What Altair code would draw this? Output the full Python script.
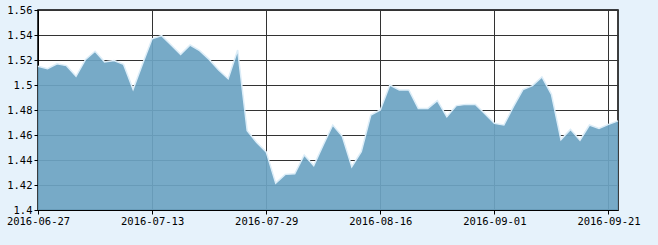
import altair as alt
import pandas as pd

dates = [
    "2016-06-27", "2016-06-28", "2016-06-29", "2016-06-30",
    "2016-07-01", "2016-07-04", "2016-07-05", "2016-07-06", "2016-07-07", "2016-07-08",
    "2016-07-11", "2016-07-12", "2016-07-13", "2016-07-14", "2016-07-15",
    "2016-07-18", "2016-07-19", "2016-07-20", "2016-07-21", "2016-07-22",
    "2016-07-25", "2016-07-26", "2016-07-27", "2016-07-28", "2016-07-29",
    "2016-08-01", "2016-08-02", "2016-08-03", "2016-08-04", "2016-08-05",
    "2016-08-08", "2016-08-09", "2016-08-10", "2016-08-11", "2016-08-12",
    "2016-08-15", "2016-08-16", "2016-08-17", "2016-08-18", "2016-08-19",
    "2016-08-22", "2016-08-23", "2016-08-24", "2016-08-25", "2016-08-26",
    "2016-08-29", "2016-08-30", "2016-08-31", "2016-09-01", "2016-09-02",
    "2016-09-05", "2016-09-06", "2016-09-07", "2016-09-08", "2016-09-09",
    "2016-09-12", "2016-09-13", "2016-09-14",
    "2016-09-19", "2016-09-20", "2016-09-21", "2016-09-22",
]

values = [
    1.515, 1.513, 1.517, 1.5155,
    1.507, 1.5205, 1.527, 1.5185, 1.5195, 1.5165,
    1.4965, 1.517, 1.537, 1.5395, 1.532,
    1.5245, 1.532, 1.5275, 1.5205, 1.512,
    1.505, 1.528, 1.4635, 1.454, 1.4465,
    1.4215, 1.4285, 1.429, 1.444, 1.4355,
    1.452, 1.468, 1.459, 1.4347, 1.4467,
    1.476, 1.480, 1.500, 1.496, 1.496,
    1.4813, 1.4813, 1.4875, 1.4747, 1.4835,
    1.4845, 1.4845, 1.477, 1.4693, 1.468,
    1.4827, 1.4963, 1.4995, 1.5065, 1.4925,
    1.4563, 1.4645, 1.4558,
    1.468, 1.4653, 1.4685, 1.4713,
]

tick_dates = ["2016-06-27", "2016-07-13", "2016-07-29", "2016-08-16", "2016-09-01", "2016-09-21"]
y_ticks = [1.40, 1.42, 1.44, 1.46, 1.48, 1.50, 1.52, 1.54, 1.56]

df = pd.DataFrame({"date": dates, "value": values})

FONT = "DejaVu Sans Mono"

x_enc = alt.X(
    "date:O",
    sort=dates,
    scale=alt.Scale(type="point", padding=0, domain=dates),
    axis=alt.Axis(
        title=None, values=tick_dates, labelAngle=0, grid=True,
        gridColor="#333333", gridWidth=1, gridOpacity=1,
        domainColor="#000000", tickColor="#000000", tickSize=4,
        labelFont=FONT, labelFontSize=10.5, labelColor="#000000", labelPadding=2,
        labelOverlap=False, labelFlush=False,
    ),
)
y_enc = alt.Y(
    "value:Q",
    scale=alt.Scale(domain=[1.4, 1.56], zero=False, nice=False),
    axis=alt.Axis(
        title=None, values=y_ticks, format=".2~f", grid=True,
        gridColor="#333333", gridWidth=1, gridOpacity=1,
        domainColor="#000000", tickColor="#000000", tickSize=4,
        labelFont=FONT, labelFontSize=10.5, labelColor="#000000", labelPadding=2,
        labelOverlap=False, labelFlush=False,
    ),
)

base = alt.Chart(df)

area = base.mark_area(color="#6da4c3", opacity=0.93, interpolate="linear").encode(
    x=x_enc, y=y_enc, y2=alt.datum(1.4)
)
line = base.mark_line(color="#dcedf8", strokeWidth=1.5, interpolate="linear").encode(
    x=x_enc, y=y_enc
)

chart = (
    alt.layer(area, line)
    .properties(
        width=580, height=200,
        background="#e6f2fb",
        autosize=alt.AutoSizeParams(type="none"),
        padding={"left": 38, "top": 10, "right": 40, "bottom": 35},
    )
    .configure_view(stroke="#000000", strokeWidth=1.5, fill="#ffffff")
)

chart.save("out.html", embed_options={"renderer": "svg", "actions": False})
